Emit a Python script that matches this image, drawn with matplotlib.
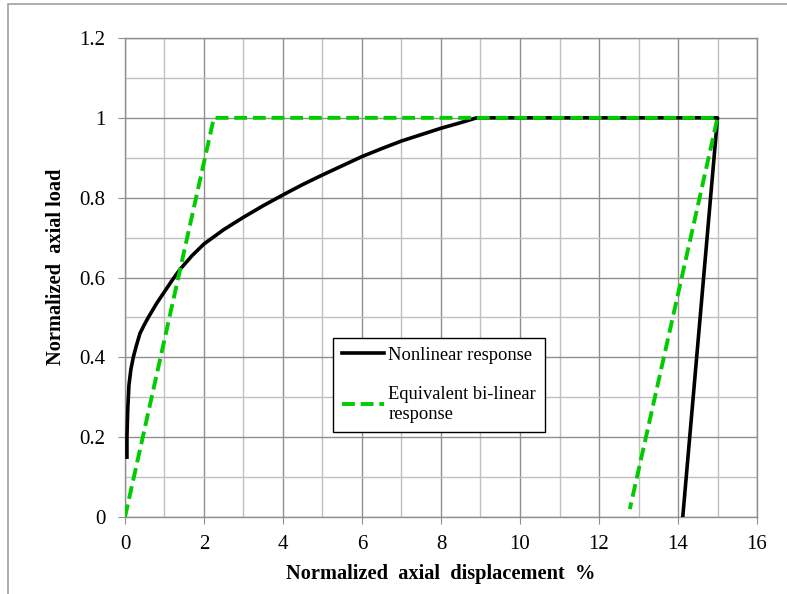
import matplotlib
matplotlib.use("Agg")
import matplotlib.pyplot as plt
from matplotlib.patches import Rectangle

# Nonlinear response
nl_disp = [0.05, 0.05, 0.07, 0.10, 0.15, 0.21, 0.29, 0.38, 0.48, 0.59, 0.80, 1.01,
           1.20, 1.39, 1.70, 2.0, 2.5, 3.0, 3.5, 4.0, 4.5, 5.0, 5.5, 6.0, 6.5,
           7.0, 7.5, 8.0, 8.5, 8.9, 15.0, 14.12]
nl_load = [0.15, 0.20, 0.27, 0.33, 0.37, 0.40, 0.43, 0.46, 0.48, 0.50, 0.535, 0.566,
           0.594, 0.62, 0.655, 0.684, 0.72, 0.751, 0.78, 0.807, 0.833, 0.857, 0.88, 0.903, 0.923,
           0.942, 0.958, 0.974, 0.988, 1.0, 1.0, 0.0]

# Equivalent bi-linear response
bl_disp = [0.0, 2.25, 15.0, 12.78]
bl_load = [0.0, 1.0, 1.0, 0.02]

plt.rcParams['font.family'] = ['Liberation Serif', 'DejaVu Serif']

fig = plt.figure(figsize=(7.87, 5.94), dpi=100)
ax = fig.add_axes([0.1588, 0.1296, 0.8031, 0.8064])

ax.plot(nl_disp, nl_load, color='black', lw=2.6, solid_joinstyle='round',
        label='Nonlinear response', zorder=3)
ax.plot(bl_disp, bl_load, color='#00cc00', lw=2.8, dashes=(3.3, 1.5),
        label='Equivalent bi-linear\nresponse', zorder=4)

ax.set_xlim(0, 16)
ax.set_ylim(0, 1.2)
ax.set_xticks(range(0, 17, 2))
ax.set_xticks(range(0, 17), minor=True)
ax.set_yticks([0, 0.2, 0.4, 0.6, 0.8, 1.0, 1.2])
ax.set_yticklabels(['0', '0.2', '0.4', '0.6', '0.8', '1', '1.2'])
ax.set_yticks([i / 10 for i in range(13)], minor=True)
ax.grid(which='major', color='#8f8f8f', lw=1.0)
ax.grid(which='minor', color='#c0c0c0', lw=1.0)
ax.set_axisbelow(True)
ax.tick_params(which='major', length=5, color='#8f8f8f', labelsize=15)
ax.tick_params(axis='x', pad=8)
ax.tick_params(axis='y', pad=9)
ax.tick_params(which='minor', length=0)
for s in ax.spines.values():
    s.set_color('#8f8f8f')
    s.set_linewidth(1.0)

ax.set_xlabel('Normalized  axial  displacement  %', fontsize=14.7, fontweight='bold')
ax.set_ylabel('Normalized  axial load', fontsize=14.7, fontweight='bold')
ax.xaxis.set_label_coords(0.5, -0.098)
ax.yaxis.set_label_coords(-0.093, 0.522)

leg = ax.legend(loc='lower left', bbox_to_anchor=(0.3286, 0.178), borderaxespad=0,
                fancybox=False, edgecolor='black', framealpha=1, fontsize=13.3,
                handlelength=2.3, handletextpad=0.2, labelspacing=1.2,
                borderpad=0.5)
leg.get_frame().set_linewidth(1.0)

fig.patches.append(Rectangle((8 / 787, -0.1), 1.2, 1.1 - 4 / 594, transform=fig.transFigure,
                             fill=False, edgecolor='#a0a0a0', lw=1.2))

fig.savefig('out.png', dpi=100)
